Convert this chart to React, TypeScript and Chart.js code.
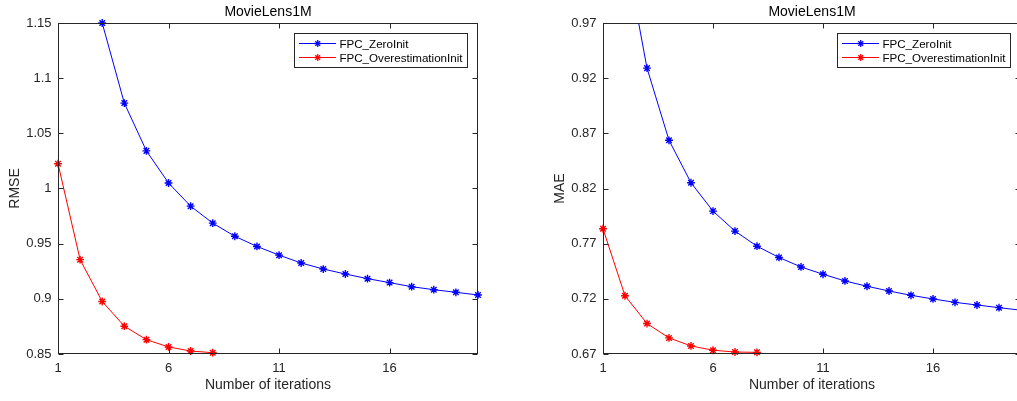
import React, { useEffect, useRef } from "react";
import { Chart, registerables } from "chart.js";

Chart.register(...registerables);

const FONT = '"Liberation Sans", Arial, Helvetica, sans-serif';
const AXIS_COLOR = "#262626";

// ---- data ----
const iterations = [1, 2, 3, 4, 5, 6, 7, 8, 9, 10, 11, 12, 13, 14, 15, 16, 17, 18, 19, 20];
const xTickValues = [1, 6, 11, 16];
const rmseTickValues = [0.85, 0.9, 0.95, 1, 1.05, 1.1, 1.15];
const maeTickValues = [0.67, 0.72, 0.77, 0.82, 0.87, 0.92, 0.97];

const rmseZeroInit = [null, 1.29, 1.15, 1.0774, 1.0341, 1.005, 0.984, 0.9686, 0.9567, 0.9475, 0.9396, 0.9325, 0.927, 0.9225, 0.9183, 0.9147, 0.911, 0.9083, 0.9059, 0.9035];
const rmseOverestimationInit = [1.0225, 0.9355, 0.8976, 0.8752, 0.863, 0.8564, 0.8527, 0.8512];
const maeZeroInit = [null, 1.037, 0.9291, 0.8637, 0.8252, 0.7995, 0.7814, 0.7677, 0.7575, 0.7489, 0.7423, 0.7362, 0.7314, 0.7271, 0.7232, 0.7199, 0.7168, 0.7144, 0.712, 0.7097];
const maeOverestimationInit = [0.7835, 0.7228, 0.6976, 0.6846, 0.6773, 0.6734, 0.6718, 0.6715];

const seriesNames = ["FPC_ZeroInit", "FPC_OverestimationInit"];
const seriesColors = ["#0000ff", "#ff0000"];
const chartTitle = "MovieLens1M";
const xLabel = "Number of iterations";

type Panel = {
  yLabel: string;
  yTicks: number[];
  series: (number | null)[][];
  canvasLeft: number;
  canvasWidth: number;
  yAxisWidth: number;
  yTitlePad: number;
};

const panels: Panel[] = [
  { yLabel: "RMSE", yTicks: rmseTickValues, series: [rmseZeroInit, rmseOverestimationInit], canvasLeft: 0, canvasWidth: 508, yAxisWidth: 58, yTitlePad: 6.8 },
  { yLabel: "MAE", yTicks: maeTickValues, series: [maeZeroInit, maeOverestimationInit], canvasLeft: 508, canvasWidth: 543, yAxisWidth: 95, yTitlePad: 44 },
];

const toPoints = (vals: (number | null)[]) =>
  vals
    .map((v, i) => (v == null ? null : { x: iterations[i], y: v }))
    .filter((p) => p !== null) as { x: number; y: number }[];

function drawStar(ctx: CanvasRenderingContext2D, x: number, y: number, r: number) {
  const d = r * Math.SQRT1_2;
  ctx.beginPath();
  ctx.moveTo(x - r, y); ctx.lineTo(x + r, y);
  ctx.moveTo(x, y - r); ctx.lineTo(x, y + r);
  ctx.moveTo(x - d, y - d); ctx.lineTo(x + d, y + d);
  ctx.moveTo(x - d, y + d); ctx.lineTo(x + d, y - d);
  ctx.stroke();
}

const decorPlugin = {
  id: "matlabDecor",
  afterDraw(chart: any) {
    const { ctx, chartArea: a, scales } = chart;
    ctx.save();
    // frame
    ctx.strokeStyle = AXIS_COLOR;
    ctx.lineWidth = 1;
    const L = Math.round(a.left) + 0.5;
    const R = Math.round(a.right) - 0.5;
    const T = Math.round(a.top) + 0.5;
    const B = Math.round(a.bottom) - 0.5;
    ctx.strokeRect(L, T, R - L, B - T);
    // inward ticks
    const tl = 5;
    ctx.beginPath();
    scales.x.ticks.forEach((t: any) => {
      const px = Math.round(scales.x.getPixelForValue(t.value)) + 0.5;
      ctx.moveTo(px, B); ctx.lineTo(px, B - tl);
      ctx.moveTo(px, T); ctx.lineTo(px, T + tl);
    });
    scales.y.ticks.forEach((t: any) => {
      const py = Math.round(scales.y.getPixelForValue(t.value)) + 0.5;
      ctx.moveTo(L, py); ctx.lineTo(L + tl, py);
      ctx.moveTo(R, py); ctx.lineTo(R - tl, py);
    });
    ctx.stroke();

    // title
    ctx.fillStyle = "#000";
    ctx.font = `14px ${FONT}`;
    ctx.textAlign = "center";
    ctx.textBaseline = "alphabetic";
    ctx.fillText(chartTitle, (a.left + a.right) / 2, 16);

    // legend
    ctx.font = `11.6px ${FONT}`;
    const tw = Math.max(...seriesNames.map((n) => ctx.measureText(n).width));
    const boxW = 45 + tw + 5;
    const boxH = 34;
    const boxR = a.right - 10.5;
    const boxL = boxR - boxW;
    const boxT = a.top + 10;
    ctx.fillStyle = "#fff";
    ctx.fillRect(boxL, boxT, boxW, boxH);
    ctx.strokeStyle = AXIS_COLOR;
    ctx.strokeRect(Math.round(boxL) + 0.5, Math.round(boxT) + 0.5, Math.round(boxW), Math.round(boxH));
    ctx.textAlign = "left";
    seriesNames.forEach((name, i) => {
      const y = Math.round(boxT + 10 + i * 14) + 0.5;
      ctx.strokeStyle = seriesColors[i];
      ctx.lineWidth = 1;
      ctx.beginPath();
      ctx.moveTo(boxL + 4.5, y);
      ctx.lineTo(boxL + 41.5, y);
      ctx.stroke();
      ctx.lineWidth = 1.3;
      drawStar(ctx, boxL + 23.3, y, 3.4);
      ctx.fillStyle = "#000";
      ctx.fillText(name, boxL + 45, y + 4.8);
    });
    ctx.restore();
  },
};

function PanelChart({ panel }: { panel: Panel }) {
  const ref = useRef<HTMLCanvasElement | null>(null);
  useEffect(() => {
    if (!ref.current) return;
    Chart.defaults.font.family = FONT;
    const datasets: any[] = [];
    panel.series.forEach((vals, i) => {
      datasets.push({
        label: seriesNames[i],
        data: toPoints(vals),
        showLine: true,
        borderColor: seriesColors[i],
        backgroundColor: seriesColors[i],
        borderWidth: 1,
        pointRadius: 0,
        tension: 0,
        fill: false,
      });
    });
    panel.series.forEach((vals, i) => {
      datasets.push({
        label: seriesNames[i] + " markers",
        data: toPoints(vals),
        showLine: false,
        borderColor: seriesColors[i],
        backgroundColor: seriesColors[i],
        pointStyle: "star",
        pointRadius: 3.9,
        pointBorderWidth: 1.4,
        clip: false,
      });
    });
    const chart = new Chart(ref.current, {
      type: "scatter",
      data: { datasets },
      plugins: [decorPlugin],
      options: {
        responsive: false,
        animation: false,
        events: [],
        layout: { padding: { top: 23, left: 0, right: 30, bottom: 0 } },
        plugins: { legend: { display: false }, tooltip: { enabled: false }, title: { display: false } },
        scales: {
          x: {
            type: "linear",
            min: iterations[0],
            max: iterations[iterations.length - 1],
            afterBuildTicks: (s: any) => { s.ticks = xTickValues.map((v) => ({ value: v })); },
            afterFit: (s: any) => { s.height = 47; },
            grid: { display: false, drawTicks: false },
            border: { display: false },
            ticks: { autoSkip: false, maxRotation: 0, padding: 6.2, color: AXIS_COLOR, font: { size: 13, family: FONT }, callback: (v: any) => String(v) },
            title: { display: true, text: xLabel, color: AXIS_COLOR, font: { size: 14, family: FONT }, padding: { top: 0, bottom: 7.3 } },
          },
          y: {
            type: "linear",
            min: panel.yTicks[0],
            max: panel.yTicks[panel.yTicks.length - 1],
            afterBuildTicks: (s: any) => { s.ticks = panel.yTicks.map((v) => ({ value: v })); },
            afterFit: (s: any) => { s.width = panel.yAxisWidth; },
            grid: { display: false, drawTicks: false },
            border: { display: false },
            ticks: { autoSkip: false, padding: 6.5, color: AXIS_COLOR, font: { size: 13, family: FONT }, callback: (v: any) => String(parseFloat(Number(v).toFixed(2))) },
            title: { display: true, text: panel.yLabel, color: AXIS_COLOR, font: { size: 14, family: FONT }, padding: { top: panel.yTitlePad, bottom: 0 } },
          },
        },
      } as any,
    });
    return () => chart.destroy();
  }, [panel]);
  return (
    <canvas
      ref={ref}
      width={panel.canvasWidth}
      height={401}
      style={{ position: "absolute", left: panel.canvasLeft, top: 0, width: panel.canvasWidth, height: 401 }}
    />
  );
}

export default function App() {
  useEffect(() => {
    document.body.style.margin = "0";
    document.body.style.overflow = "hidden";
    document.body.style.background = "#fff";
  }, []);
  return (
    <div style={{ position: "relative", width: 1017, height: 401, overflow: "hidden", background: "#fff" }}>
      {panels.map((p, i) => (
        <PanelChart key={i} panel={p} />
      ))}
    </div>
  );
}
